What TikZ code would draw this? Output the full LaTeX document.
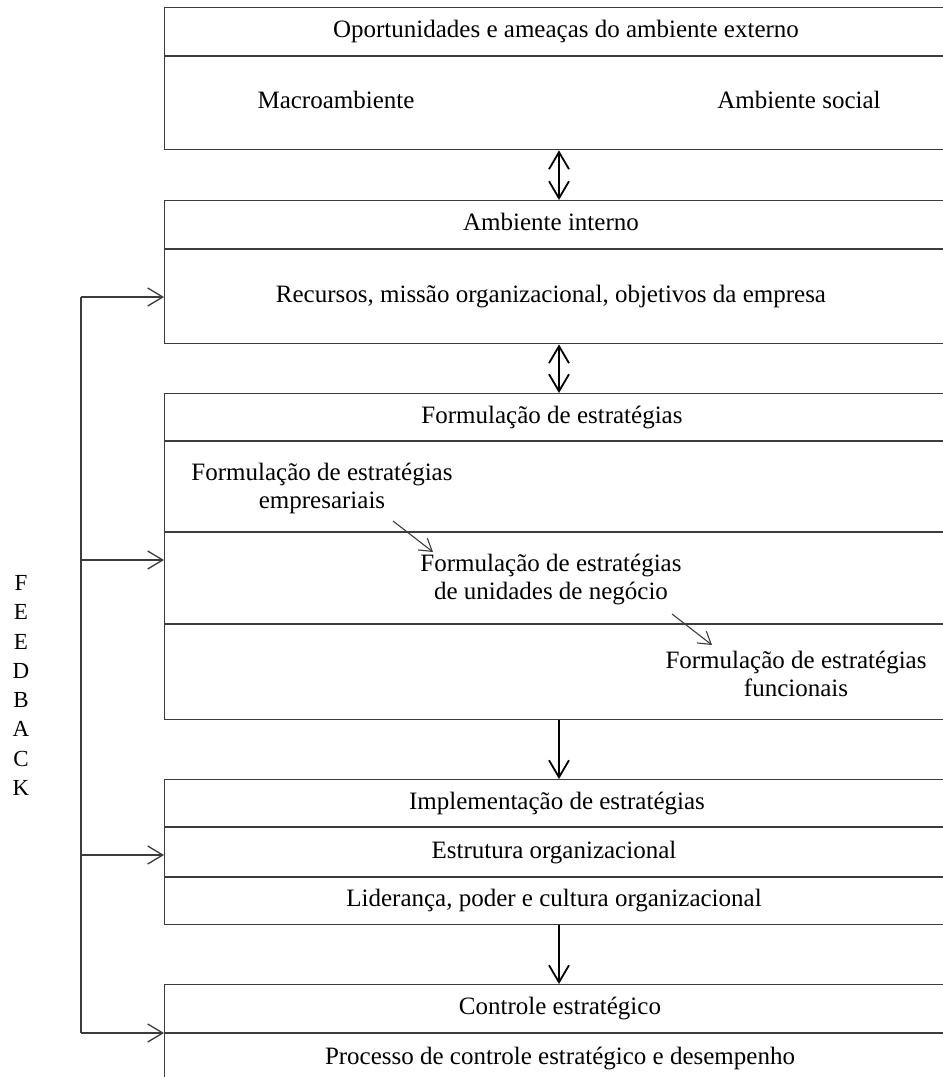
\documentclass[tikz,border=0pt]{standalone}
\usepackage{fontspec}
\setmainfont{Liberation Serif}
\usetikzlibrary{arrows.meta}
\definecolor{rule}{HTML}{3C3C3C}
\begin{document}
\begin{tikzpicture}[x=1pt,y=-1pt,
  panel/.style={draw=rule, line width=1.4pt, anchor=north west, inner sep=0pt,
    minimum width=820pt},
  divider/.style={draw=rule, line width=1.4pt},
  lbl/.style={font=\fontsize{25pt}{27pt}\selectfont, inner sep=0pt, align=center,
    text height=17pt, text depth=5pt},
  lbl2/.style={font=\fontsize{25pt}{28pt}\selectfont, inner sep=0pt, align=center},
  flow/.style={line width=2pt, -{Straight Barb[length=17pt, width=20pt, line width=1.8pt]}},
  flow2/.style={line width=2pt, {Straight Barb[length=17pt, width=20pt, line width=1.8pt]}-{Straight Barb[length=17pt, width=20pt, line width=1.8pt]}},
  fbline/.style={draw=rule, line width=1.4pt},
  fb/.style={draw=rule, line width=1.4pt, -{Straight Barb[length=15pt, width=18pt, line width=1.3pt]}},
  step arrow/.style={draw=rule, line width=1.1pt, -{Straight Barb[length=12pt, width=15pt, line width=1.1pt]}}
]
\clip (0,0) rectangle (943,1077);
\fill[white] (0,0) rectangle (943,1077);

% panels
\node[panel, minimum height=142pt] (b1) at (164,7) {};
\node[panel, minimum height=143pt] (b2) at (164,200) {};
\node[panel, minimum height=326pt] (b3) at (164,393) {};
\node[panel, minimum height=145pt] (b4) at (164,779) {};
\node[panel, minimum height=140pt] (b5) at (164,984) {};

% section dividers
\draw[divider] (164,56) -- (984,56);
\draw[divider] (164,249) -- (984,249);
\draw[divider] (164,441) -- (984,441);
\draw[divider] (164,532) -- (984,532);
\draw[divider] (164,624) -- (984,624);
\draw[divider] (164,827) -- (984,827);
\draw[divider] (164,877) -- (984,877);
\draw[divider] (164,1033) -- (984,1033);

% texts
\node[lbl] (t1) at (566,31.5) {Oportunidades e ameaças do ambiente externo};
\node[lbl] (t1a) at (336,102.5) {Macroambiente};
\node[lbl] (t1b) at (799,102.5) {Ambiente social};
\node[lbl] (t2) at (551,224) {Ambiente interno};
\node[lbl] (t2a) at (551,296) {Recursos, missão organizacional, objetivos da empresa};
\node[lbl] (t3) at (552,417) {Formulação de estratégias};
\node[lbl2] (t3a) at (322,488) {Formulação de estratégias\\empresariais};
\node[lbl2] (t3b) at (551,579) {Formulação de estratégias\\de unidades de negócio};
\node[lbl2] (t3c) at (796,674) {Formulação de estratégias\\funcionais};
\node[lbl] (t4) at (557,803) {Implementação de estratégias};
\node[lbl] (t4a) at (554,852) {Estrutura organizacional};
\node[lbl] (t4b) at (554,900.5) {Liderança, poder e cultura organizacional};
\node[lbl] (t5) at (560,1008.5) {Controle estratégico};
\node[lbl] (t5a) at (560,1058) {Processo de controle estratégico e desempenho};

% vertical flow between panels
\coordinate (axis) at (559,0);
\draw[flow2] (b1.south -| axis) -- (b2.north -| axis);
\draw[flow2] (b2.south -| axis) -- (b3.north -| axis);
\draw[flow] (b3.south -| axis) -- (b4.north -| axis);
\draw[flow] (b4.south -| axis) -- (b5.north -| axis);

% cascade of strategy levels
\coordinate (d1s) at (393,521);
\coordinate (d1e) at (433,552);
\coordinate (d2s) at (672,614);
\coordinate (d2e) at (712,645);
\draw[step arrow] (d1s) -- (d1e);
\draw[step arrow] (d2s) -- (d2e);

% feedback loop
\coordinate (fb2) at (81,297);
\coordinate (fb3) at (81,560);
\coordinate (fb4) at (81,855);
\coordinate (fb5) at (81,1033);
\draw[fbline] (fb2) -- (fb5);
\draw[fb] (fb2) -- (b2.west |- fb2);
\draw[fb] (fb3) -- (b3.west |- fb3);
\draw[fb] (fb4) -- (b4.west |- fb4);
\draw[fb] (fb5) -- (b5.west |- fb5);

\node[font=\fontsize{23pt}{29.3pt}\selectfont, align=center, inner sep=0pt] (fbtxt) at (21,685.5)
  {F\\E\\E\\D\\B\\A\\C\\K};
\end{tikzpicture}
\end{document}
